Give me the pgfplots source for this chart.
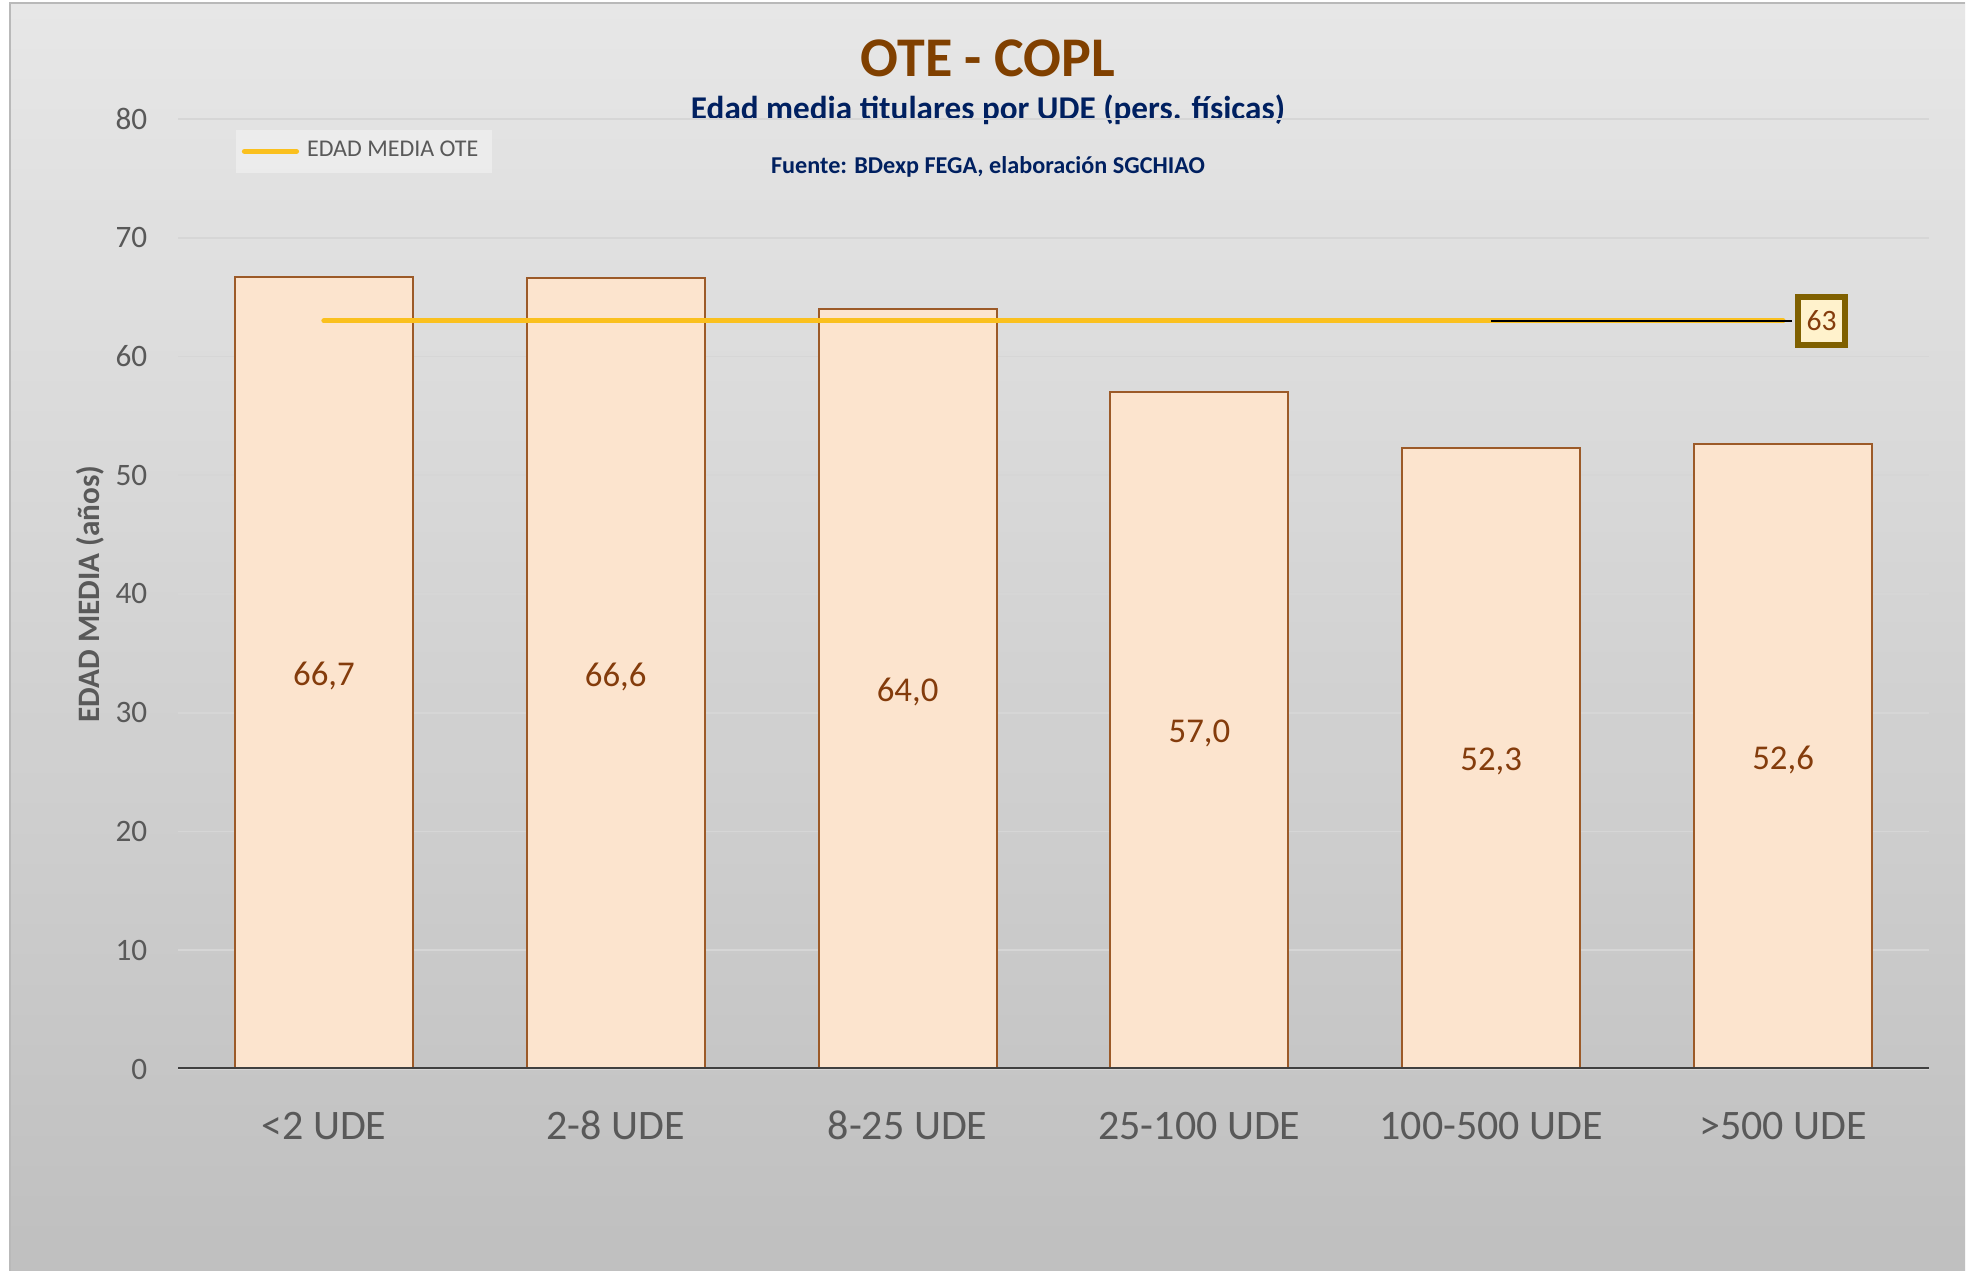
\documentclass[border=0pt]{standalone}
\usepackage{pgfplots}
\pgfplotsset{compat=1.18}
\usepackage{pgfplotstable}
\usepackage{fontspec}
\setmainfont{Carlito}
\definecolor{titlebrown}{RGB}{128,64,0}
\definecolor{navy}{RGB}{0,32,96}
\definecolor{barfill}{RGB}{252,228,206}
\definecolor{baredge}{RGB}{156,90,40}
\definecolor{lblbrown}{RGB}{132,60,12}
\definecolor{gold}{RGB}{250,192,30}
\definecolor{darkgold}{RGB}{127,96,0}
\definecolor{lightgold}{RGB}{255,242,204}
\definecolor{ticgray}{RGB}{89,89,89}
\definecolor{axgray}{RGB}{64,64,64}
\definecolor{gridgray}{RGB}{214,214,214}
\definecolor{bgtop}{RGB}{246,246,246}
\definecolor{bgbot}{RGB}{204,204,204}

\pgfplotstableread{
x v
0 66.7
1 66.6
2 64.0
3 57.0
4 52.3
5 52.6
}\bars
\pgfplotstableread{
x v
0 63
1 63
2 63
3 63
4 63
5 63
}\avg

\begin{document}
\begin{tikzpicture}
\useasboundingbox (0,0) rectangle (492pt,317.75pt);
\fill[white] (0,0) rectangle (492pt,317.75pt);
\shade[top color=bgtop, bottom color=bgbot] (2.5pt,0) rectangle (491.25pt,317pt);
\shade[left color=black, middle color=white, right color=black, opacity=0.06] (2.5pt,0) rectangle (491.25pt,317pt);
\draw[gray!55, line width=0.6pt] (2.5pt,0) -- (2.5pt,317pt) -- (491.25pt,317pt);

\node[font=\fontsize{14}{16}\selectfont\bfseries, text=titlebrown] at (247pt,303.25pt) {OTE - COPL};
\node[font=\fontsize{8.3}{10}\selectfont\bfseries, text=navy] at (247pt,290.25pt) {Edad media titulares por UDE (pers. físicas)};
\node[font=\fontsize{6.05}{7}\selectfont\bfseries, text=navy] at (247pt,276pt) {Fuente: BDexp FEGA, elaboración SGCHIAO};

\begin{axis}[
  at={(44.5pt,50.5pt)}, anchor=south west,
  scale only axis, width=437.75pt, height=237.5pt,
  xmin=-0.5, xmax=5.5, ymin=0, ymax=80,
  ytick={0,10,...,80}, xtick={0,1,2,3,4,5},
  xticklabels={{<2 UDE},{2-8 UDE},{8-25 UDE},{25-100 UDE},{100-500 UDE},{>500 UDE}},
  axis line style={draw=none},
  major tick length=0pt,
  ymajorgrids, major grid style={gridgray, line width=0.4pt},
  /pgf/number format/assume math mode=true,
  yticklabel style={font=\fontsize{7.8}{9}\selectfont, text=ticgray, anchor=east, inner sep=0pt, xshift=-7.5pt},
  xticklabel style={font=\fontsize{10.5}{12}\selectfont, text=ticgray, anchor=base, inner sep=0pt, yshift=-17.6pt},
  ylabel={EDAD MEDIA (años)},
  ylabel style={font=\fontsize{7.8}{9}\selectfont\bfseries, text=ticgray, at={(axis description cs:-0.0503,0.5)}, anchor=center},
  legend style={at={(0.0326,0.9895)}, anchor=north west, fill=white, fill opacity=0.35, text opacity=1, draw=none,
    font=\fontsize{6}{7}\selectfont, text=ticgray, inner xsep=1.5pt, inner ysep=0.7pt},
  legend image code/.code={\draw[#1] (0pt,0pt) -- (13pt,0pt);},
  legend cell align=left,
]
\addplot[ybar, bar width=44.5pt, bar shift=0pt, fill=barfill, draw=baredge, line width=0.5pt, forget plot]
  table[x=x, y=v] {\bars};
\addplot[draw=none, forget plot, nodes near coords={\pgfmathprintnumber[fixed,fixed zerofill,precision=1,use comma]{\pgfplotspointmeta}},
  point meta=explicit,
  every node near coord/.append style={anchor=center, yshift=-0.8pt, font=\fontsize{8.7}{10}\selectfont, text=lblbrown}]
  table[x=x, y expr=\thisrow{v}/2, meta=v] {\bars};
\addplot[gold, line width=1.3pt, line cap=round, mark=none] table[x=x, y=v] {\avg};
\addlegendentry{EDAD MEDIA OTE}
\addplot[black, line width=0.5pt, forget plot] coordinates {(4,63) (5.03,63)};
\addplot[draw=none, forget plot, point meta=explicit,
  nodes near coords={\pgfmathprintnumber{\pgfplotspointmeta}},
  every node near coord/.append style={anchor=west, xshift=3pt, draw=darkgold, line width=1.5pt, fill=lightgold,
    minimum width=11.75pt, minimum height=12pt, inner sep=0pt, font=\fontsize{7.4}{8}\selectfont, text=lblbrown}]
  table[x=x, y=v, meta=v] {
x v
5 63
};
\draw[axgray, line width=0.75pt] (rel axis cs:0,0) -- (rel axis cs:1,0);
\end{axis}
\end{tikzpicture}
\end{document}
